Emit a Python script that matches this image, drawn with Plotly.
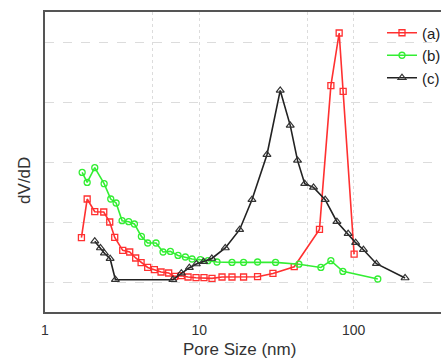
import plotly.graph_objects as go

# Series (a)
a_x = [1.722, 1.876, 2.101, 2.403, 2.627, 2.830, 3.189, 3.539, 3.869, 4.195, 4.628, 5.113,
       5.649, 6.329, 6.922, 7.646, 8.452, 9.52, 10.72, 12.08, 14.03, 16.28, 19.35, 23.84,
       29.99, 41.19, 60.06, 71.19, 80.56, 85.51, 100.7]
a_y = [0.738, 1.383, 1.172, 1.167, 1.0, 0.743, 0.527, 0.5, 0.4, 0.322, 0.243, 0.205,
       0.167, 0.15, 0.093, 0.105, 0.083, 0.072, 0.072, 0.06, 0.083, 0.083, 0.083, 0.088,
       0.143, 0.255, 0.877, 3.272, 4.15, 3.177, 0.463]

# Series (b)
b_x = [1.741, 1.876, 2.101, 2.416, 2.667, 2.889, 3.160, 3.486, 3.795, 4.213, 4.628, 5.245,
       5.821, 6.492, 7.281, 8.118, 8.970, 10.15, 11.38, 13.02, 16.28, 19.35, 23.84, 31.18,
       44.19, 61.33, 71.19, 85.13, 143.4]
b_y = [1.827, 1.66, 1.905, 1.638, 1.383, 1.317, 1.022, 1.005, 0.967, 0.76, 0.65, 0.65,
       0.5, 0.51, 0.443, 0.417, 0.383, 0.372, 0.355, 0.333, 0.327, 0.327, 0.333, 0.327,
       0.297, 0.243, 0.355, 0.177, 0.05]

# Series (c)
c_x = [2.101, 2.287, 2.427, 2.642, 2.859, 6.739, 7.646, 8.616, 9.563, 10.66, 12.05, 14.73,
       18.24, 21.93, 27.43, 33.44, 38.82, 43.28, 48.18, 54.94, 65.39, 77.86, 92.13, 103.0,
       115.7, 140.5, 215.4]
c_y = [0.68, 0.567, 0.48, 0.388, 0.038, 0.038, 0.147, 0.238, 0.3, 0.338, 0.392, 0.567,
       0.872, 1.372, 2.122, 3.193, 2.61, 2.027, 1.638, 1.577, 1.372, 1.005, 0.805, 0.655,
       0.538, 0.305, 0.067]

x_tickvals = [1, 5, 10, 50, 100]
x_ticktext = ["1", "", "10", "", "100"]

fig = go.Figure()
fig.add_trace(go.Scatter(x=a_x, y=a_y, name="(a)", mode="lines+markers",
                         line=dict(color="#ff3030", width=1.6),
                         marker=dict(symbol="square-open", size=6, color="#ff3030",
                                     line=dict(width=1.3))))
fig.add_trace(go.Scatter(x=b_x, y=b_y, name="(b)", mode="lines+markers",
                         line=dict(color="#33ee33", width=1.6),
                         marker=dict(symbol="circle-open", size=6, color="#33ee33",
                                     line=dict(width=1.3))))
fig.add_trace(go.Scatter(x=c_x, y=c_y, name="(c)", mode="lines+markers",
                         line=dict(color="#222222", width=1.6),
                         marker=dict(symbol="triangle-up-open", size=7, color="#333333",
                                     line=dict(width=1.2))))

fig.update_layout(
    width=441, height=358,
    margin=dict(l=45, r=0, t=12, b=46, autoexpand=False),
    paper_bgcolor="white", plot_bgcolor="white",
    font=dict(family="Liberation Sans, Arial, sans-serif", size=14, color="#333333"),
    showlegend=True,
    legend=dict(x=0.851, y=0.985, xanchor="left", yanchor="top",
                bgcolor="rgba(0,0,0,0)", font=dict(size=15, color="#222222"),
                tracegroupgap=0),
    xaxis=dict(type="log", range=[0, 2.566],
               tickvals=x_tickvals, ticktext=x_ticktext,
               showline=True, linecolor="#555555", linewidth=2, mirror=True,
               showgrid=True, gridcolor="#dcdcdc", griddash="dot", gridwidth=1,
               ticks="", zeroline=False, ticklabelstandoff=4,
               tickfont=dict(size=14, color="#333333")),
    yaxis=dict(range=[-0.5, 4.5], dtick=1, tick0=0,
               showline=True, linecolor="#555555", linewidth=2,
               showgrid=True, gridcolor="#dcdcdc", griddash="dash", gridwidth=1,
               showticklabels=False, ticks="", zeroline=False),
    annotations=[
        dict(text="Pore Size (nm)", xref="paper", yref="paper", x=0.492, y=-0.125,
             xanchor="center", yanchor="middle", showarrow=False,
             font=dict(size=17, color="#333333")),
        dict(text="dV/dD", xref="paper", yref="paper", x=-0.0505, y=0.437,
             xanchor="center", yanchor="middle", textangle=-90, showarrow=False,
             font=dict(size=17, color="#333333")),
    ],
)

fig.write_html("out.html")
